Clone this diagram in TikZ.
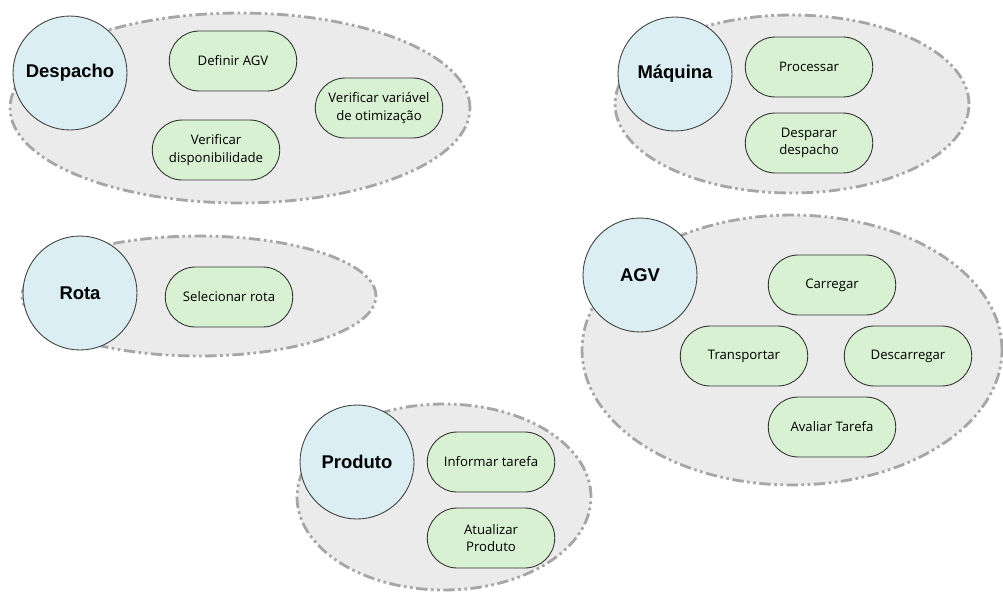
\documentclass[tikz,border=0pt]{standalone}
\usepackage{fontspec}
\setmainfont{Open Sans}
\newfontfamily\rotulofont{Liberation Sans}
\usetikzlibrary{shapes.geometric}
\usetikzlibrary{shapes.misc}

\definecolor{areaFill}{HTML}{EBEBEB}
\definecolor{areaLine}{HTML}{A6A6A6}
\definecolor{agenteFill}{HTML}{DAEEF3}
\definecolor{tarefaFill}{HTML}{D8F1D2}

\tikzset{
  area/.style={ellipse, draw=areaLine, fill=areaFill, line width=1.6pt,
    dash pattern=on 6.5pt off 2pt on 1.5pt off 2pt on 1.5pt off 2pt, inner sep=0pt},
  agente/.style={circle, draw=black!75, fill=agenteFill, line width=0.5pt,
    minimum size=2.28cm, inner sep=0pt, font=\rotulofont\bfseries\fontsize{10.5}{12}\selectfont},
  tarefa/.style={rounded rectangle, draw=black!80, fill=tarefaFill, line width=0.5pt,
    minimum width=2.62cm, minimum height=1.2cm, inner sep=1pt, align=center,
    font=\fontsize{7.5}{10}\selectfont}
}

\begin{document}
\begin{tikzpicture}[x=0.02cm,y=-0.02cm]
            % Fix the page to the reference size
            \useasboundingbox (0,0) rectangle (1003,592);

            % Draw the grouping areas
            \node[area, minimum width=9.2cm, minimum height=3.8cm] (despachoArea) at (240,108) {};
            \node[area, minimum width=7.08cm, minimum height=2.4cm] (rotaArea) at (199,296) {};
            \node[area, minimum width=7.08cm, minimum height=3.56cm] (maquinaArea) at (792,104) {};
            \node[area, minimum width=8.4cm, minimum height=5.4cm] (agvArea) at (792,350) {};
            \node[area, minimum width=5.88cm, minimum height=3.72cm] (produtoArea) at (444,497) {};

            % Draw the agents
            \node[agente] (despacho) at (70,73) {Despacho};
            \node[agente] (rota) at (80,293) {Rota};
            \node[agente] (maquina) at (675,74) {Máquina};
            \node[agente] (agv) at (640,275) {AGV};
            \node[agente] (produto) at (357,462) {Produto};

            % Draw the tasks of each agent
            \node[tarefa] (definirAGV) at (233,61) {Definir AGV};
            \node[tarefa] (verificarVar) at (379,108) {Verificar variável\\de otimização};
            \node[tarefa] (verificarDisp) at (216,150) {Verificar\\disponibilidade};

            \node[tarefa] (selecionarRota) at (229,297) {Selecionar rota};

            \node[tarefa] (processar) at (809,67) {Processar};
            \node[tarefa] (desparar) at (809,143) {Desparar\\despacho};

            \node[tarefa] (carregar) at (832,285) {Carregar};
            \node[tarefa] (transportar) at (744,356) {Transportar};
            \node[tarefa] (descarregar) at (908,356) {Descarregar};
            \node[tarefa] (avaliar) at (832,427) {Avaliar Tarefa};

            \node[tarefa] (informar) at (491,462) {Informar tarefa};
            \node[tarefa] (atualizar) at (491,538) {Atualizar\\Produto};
\end{tikzpicture}
\end{document}
